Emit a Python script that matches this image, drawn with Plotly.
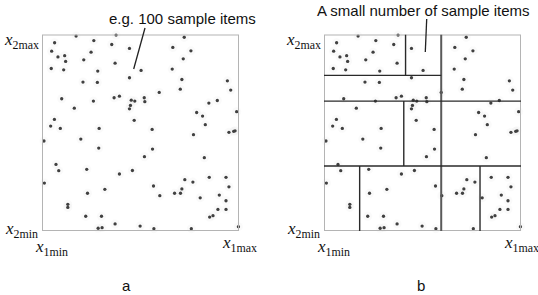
import plotly.graph_objects as go

# ---- data (percent of x1/x2 range) ----
sample_x = [17.3, 37.6, 6.4, 26.3, 35.4, 4.9, 24.9, 44.4, 66.4, 72.2, 75.6, 8.1, 11.5, 12.0, 21.2,
            71.7, 37.1, 4.7, 11.0, 28.3, 50.3, 66.1, 44.4, 71.0, 94.1, 20.8, 28.1, 70.2, 95.8, 10.0,
            26.1, 36.6, 39.3, 45.3, 47.1, 51.9, 52.2, 44.9, 44.4, 59.5, 16.4, 84.7, 89.0, 78.5, 81.5,
            98.8, 6.3, 4.4, 9.3, 46.8, 29.0, 82.9, 55.9, 76.9, 94.9, 97.3, 98.0, 19.7, 1.0, 28.8,
            56.1, 52.0, 82.4, 7.1, 8.5, 22.7, 45.9, 39.3, 1.2, 72.5, 76.6, 84.9, 93.4, 94.9, 56.6,
            71.0, 67.3, 70.3, 59.8, 31.9, 23.1, 80.3, 90.0, 93.4, 13.1, 13.1, 89.3, 93.4, 85.1, 86.8,
            22.2, 30.2, 37.1, 49.8, 28.5, 30.5, 56.8, 75.8, 99.7]
sample_y = [99.2, 99.7, 95.8, 96.9, 94.9, 91.5, 91.0, 92.9, 93.4, 98.6, 91.7, 88.6, 89.2, 86.3, 87.1,
            87.6, 85.4, 82.7, 82.0, 81.4, 81.7, 82.4, 78.0, 77.1, 76.4, 75.8, 75.6, 72.2, 71.7, 67.3,
            66.1, 67.8, 68.6, 66.6, 66.1, 67.8, 65.8, 63.9, 62.2, 70.5, 62.5, 65.1, 66.4, 60.3, 58.5,
            60.7, 56.8, 53.4, 52.2, 56.3, 52.2, 54.1, 51.7, 49.0, 50.2, 50.7, 51.0, 46.8, 45.8, 42.2,
            41.7, 37.8, 37.3, 33.9, 30.7, 31.4, 30.8, 29.0, 24.4, 26.1, 24.9, 27.3, 27.3, 22.5, 22.9,
            21.4, 19.2, 19.2, 18.0, 21.2, 19.2, 16.9, 18.3, 15.4, 13.6, 12.0, 11.0, 11.0, 7.1, 7.8,
            7.5, 7.5, 3.6, 2.5, 1.4, 1.7, 1.2, 1.2, 2.2]

# partition of panel b: (x0, y0, x1, y1) in the same percent units
split_segments = [
    (59.5, 0, 59.5, 100),
    (0, 66.1, 100, 66.1),
    (0, 79.2, 59.5, 79.2),
    (41.4, 79.2, 41.4, 100),
    (40.5, 33.1, 40.5, 66.1),
    (0, 33.1, 100, 33.1),
    (18.1, 0, 18.1, 33.1),
    (79.2, 0, 79.2, 33.1),
]

panel_notes = ["e.g. 100 sample items", "A small number of sample items"]
panel_letters = ["a", "b"]
axis_labels = ["<i>x</i><sub>2max</sub>", "<i>x</i><sub>2min</sub>",
               "<i>x</i><sub>1min</sub>", "<i>x</i><sub>1max</sub>"]

W, H = 538, 295
def px(x): return x / W
def py(y): return 1 - y / H

fig = go.Figure()
for k, (xa, ya) in enumerate([("x", "y"), ("x2", "y2")]):
    fig.add_trace(go.Scatter(x=sample_x, y=sample_y, mode="markers", xaxis=xa, yaxis=ya,
                             marker=dict(size=9, color="rgba(215,215,215,0.12)"),
                             hoverinfo="skip", showlegend=False, cliponaxis=False))
    fig.add_trace(go.Scatter(x=sample_x, y=sample_y, mode="markers", xaxis=xa, yaxis=ya,
                             marker=dict(size=3.3, color="#404040"),
                             showlegend=False, cliponaxis=False))

box_left = [42, 324]
box_right = [239, 521]
top, bottom = 34.5, 231

axis_common = dict(range=[0, 100], showgrid=False, zeroline=False, showticklabels=False,
                   ticks="", showline=False, fixedrange=True)
fig.update_layout(
    width=W, height=H, margin=dict(l=0, r=0, t=0, b=0),
    paper_bgcolor="white", plot_bgcolor="white",
    xaxis=dict(domain=[px(box_left[0]), px(box_right[0])], **axis_common),
    yaxis=dict(domain=[py(bottom), py(top)], **axis_common),
    xaxis2=dict(domain=[px(box_left[1]), px(box_right[1])], anchor="y2", **axis_common),
    yaxis2=dict(domain=[py(bottom), py(top)], anchor="x2", **axis_common),
)

shapes = []
for xr, yr in [("x", "y"), ("x2", "y2")]:
    shapes.append(dict(type="rect", xref=xr, yref=yr, x0=0, y0=0, x1=100, y1=100,
                       line=dict(color="#b4b4b4", width=2)))
for i, (x0, y0, x1, y1) in enumerate(split_segments):
    central = i == 0
    shapes.append(dict(type="line", xref="x2", yref="y2", x0=x0, y0=y0, x1=x1, y1=y1,
                       line=dict(color="#5a5a5a" if central else "#2a2a2a",
                                 width=2 if central else 1.4)))
# leader lines
shapes.append(dict(type="line", xref="paper", yref="paper", x0=px(145), y0=py(28),
                   x1=px(133.7), y1=py(69), line=dict(color="#222", width=1.3)))
shapes.append(dict(type="line", xref="paper", yref="paper", x0=px(426.7), y0=py(19),
                   x1=px(425.3), y1=py(52), line=dict(color="#222", width=1.3)))
fig.update_layout(shapes=shapes)

ann = []
sans = "Liberation Sans, Arial, sans-serif"
serif = "Liberation Serif, Times New Roman, serif"
def add_text(text, x, y, font, xanchor="center"):
    ann.append(dict(text=text, x=px(x), y=py(y), xref="paper", yref="paper",
                    xanchor=xanchor, yanchor="middle", showarrow=False, font=font))

f_sans = dict(family=sans, size=15, color="#111")
add_text(panel_notes[0], 182, 18, f_sans)
add_text(panel_notes[1], 423, 11, f_sans)
add_text(panel_letters[0], 126.5, 285, f_sans)
add_text(panel_letters[1], 420.5, 285, f_sans)
f_serif = dict(family=serif, size=17, color="#111")
for b in range(2):
    off = box_left[b] - box_left[0]
    pos = [(41 + off, 41, "right"), (40 + off, 230, "right"),
           (51.5 + off, 248, "center"), (239 + off, 244, "center")]
    for lab, (lx, ly, anc) in zip(axis_labels, pos):
        add_text(lab, lx, ly, f_serif, anc)
fig.update_layout(annotations=ann)

fig.write_html("out.html", config={"displayModeBar": False, "staticPlot": True},
               post_script="document.body.style.margin='0';document.body.style.padding='0';"
                           "window.dispatchEvent(new Event('resize'));")
